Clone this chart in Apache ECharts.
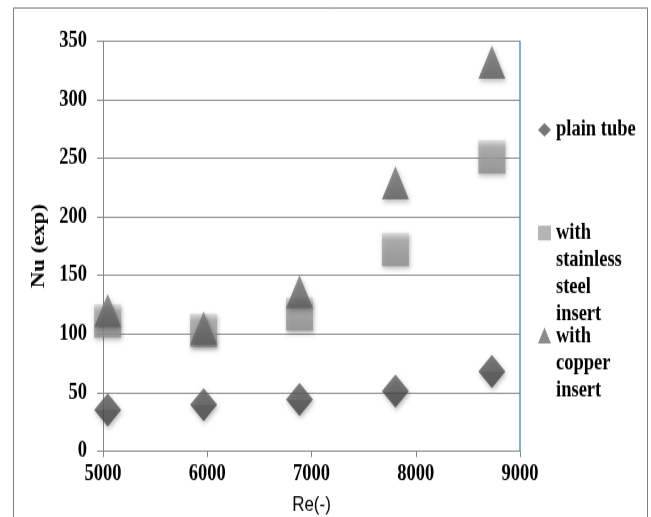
<!DOCTYPE html>
<html>
<head>
<meta charset="utf-8">
<script src="https://cdn.jsdelivr.net/npm/echarts@6/dist/echarts.min.js"></script>
<style>
  html, body { margin: 0; padding: 0; background: #fff; overflow: hidden; }
  #wrap { width: 651px; height: 517px; overflow: hidden; position: relative; }
  /* the chart is laid out at a shorter height and stretched vertically,
     giving the tall, narrow glyphs and markers of the original figure */
  #chart { width: 651px; height: 420px; transform: scaleY(1.231); transform-origin: 0 0; }
</style>
</head>
<body>
<div id="wrap"><div id="chart"></div></div>
<script>
// Reynolds number of each test run
const reynolds = [5045, 5965, 6885, 7805, 8730];
// Experimental Nusselt numbers
const plainTube = [35, 39.5, 44, 51, 68];
const stainlessInsert = [111, 103, 117, 172, 251];
const copperInsert = [120, 105, 136, 229, 332];

const seriesNames = ['plain tube', 'with stainless steel insert', 'with copper insert'];
const legendLabels = ['plain tube', 'with\nstainless\nsteel\ninsert', 'with\ncopper\ninsert'];

const xTicks = { min: 5000, max: 9000, step: 1000 };
const yTicks = { min: 0, max: 350, step: 50 };

const pairs = (xs, ys) => xs.map((x, i) => [x, ys[i]]);

const serif = 'Liberation Serif, Times New Roman, serif';
const axisGray = '#868686';
const LINE = 22; // legend line height

const grad = (stops) => ({
  type: 'linear', x: 0, y: 0, x2: 0, y2: 1,
  colorStops: stops.map(([o, c]) => ({ offset: o, color: c }))
});

const markerShadow = {
  shadowBlur: 4,
  shadowColor: 'rgba(0,0,0,0.35)',
  shadowOffsetX: 1,
  shadowOffsetY: 2
};

const legendText = {
  fontFamily: serif,
  fontWeight: 'bold',
  fontSize: 18.5,
  color: '#000',
  lineHeight: LINE
};

// Legend icons sit beside the first line of a wrapped label: the path spans the
// whole label height (invisible move-to points) and draws its shape at the top.
const squareIcon = (lines) =>
  'path://M0,0 M0,5 L13,5 L13,17 L0,17 Z M0,' + (lines * LINE);
const triangleIcon = (lines) =>
  'path://M0,0 M6.5,4 L13,17 L0,17 Z M0,' + (lines * LINE);

const chart = echarts.init(document.getElementById('chart'), null, { renderer: 'canvas' });

chart.setOption({
  animation: false,
  backgroundColor: '#fff',
  graphic: [{
    type: 'rect',
    shape: { x: 13.5, y: 6.5, width: 634, height: 440 },
    style: { fill: 'none', stroke: '#7f7f7f', lineWidth: 1 },
    silent: true
  }],
  grid: { left: 103, right: 131, top: 33.3, bottom: 53.6, containLabel: false, outerBoundsMode: 'none' },
  xAxis: {
    type: 'value',
    min: xTicks.min, max: xTicks.max, interval: xTicks.step,
    axisLine: { show: true, lineStyle: { color: axisGray, width: 1 } },
    axisTick: { show: true, length: 5, lineStyle: { color: axisGray } },
    splitLine: { show: false },
    axisLabel: {
      fontFamily: serif, fontWeight: 'bold', fontSize: 18.5, color: '#000', margin: 9,
      formatter: (v) => String(v)
    },
    name: 'Re(-)',
    nameLocation: 'middle',
    nameGap: 35,
    nameTextStyle: { fontFamily: 'Liberation Sans, Arial, sans-serif', fontSize: 17, color: '#000' }
  },
  yAxis: {
    type: 'value',
    min: yTicks.min, max: yTicks.max, interval: yTicks.step,
    axisLine: { show: true, lineStyle: { color: axisGray, width: 1 } },
    axisTick: { show: true, length: 6, lineStyle: { color: axisGray } },
    splitLine: { show: true, lineStyle: { color: '#8c8c8c', width: 1 } },
    axisLabel: { fontFamily: serif, fontWeight: 'bold', fontSize: 18.5, color: '#000', margin: 16 },
    name: 'Nu (exp)',
    nameLocation: 'middle',
    nameRotate: 90,
    nameGap: 38,
    nameTextStyle: { fontFamily: serif, fontWeight: 'bold', fontSize: 18.5, color: '#000' }
  },
  legend: [
    {
      data: [seriesNames[0]], left: 538, top: 94.6, padding: 0, orient: 'vertical',
      selectedMode: false, itemWidth: 13, itemHeight: 11, icon: 'diamond',
      itemStyle: { color: '#555555' },
      formatter: () => legendLabels[0],
      textStyle: legendText
    },
    {
      data: [seriesNames[1]], left: 538, top: 178.3, padding: 0, orient: 'vertical',
      selectedMode: false, itemWidth: 13, itemHeight: 4 * LINE, icon: squareIcon(4),
      itemStyle: { color: '#a3a3a3' },
      formatter: () => legendLabels[1],
      textStyle: legendText
    },
    {
      data: [seriesNames[2]], left: 538, top: 262, padding: 0, orient: 'vertical',
      selectedMode: false, itemWidth: 13, itemHeight: 3 * LINE, icon: triangleIcon(3),
      itemStyle: { color: '#6e6e6e' },
      formatter: () => legendLabels[2],
      textStyle: legendText
    }
  ],
  series: [
    {
      name: seriesNames[0],
      type: 'scatter',
      symbol: 'diamond',
      symbolSize: [27, 27],
      data: pairs(reynolds, plainTube),
      itemStyle: Object.assign({
        color: grad([[0, '#626262'], [0.5, '#565656'], [0.5, '#4a4a4a'], [1, '#444444']])
      }, markerShadow)
    },
    {
      name: seriesNames[1],
      type: 'scatter',
      symbol: 'rect',
      symbolSize: [27, 27],
      data: pairs(reynolds, stainlessInsert),
      itemStyle: Object.assign({
        color: grad([[0, '#d6d6d6'], [0.22, '#a8a8a8'], [0.6, '#9a9a9a'], [1, '#8e8e8e']])
      }, markerShadow)
    },
    {
      name: seriesNames[2],
      type: 'scatter',
      symbol: 'triangle',
      symbolSize: [27, 27],
      data: pairs(reynolds, copperInsert),
      itemStyle: Object.assign({
        color: grad([[0, '#7a7a7a'], [0.6, '#6a6a6a'], [1, '#5e5e5e']])
      }, markerShadow),
      markLine: {
        silent: true,
        symbol: 'none',
        label: { show: false },
        lineStyle: { color: '#5b8fd6', width: 1.5, type: 'solid', shadowBlur: 0 },
        data: [{ xAxis: xTicks.max }]
      }
    }
  ]
});
</script>
</body>
</html>
